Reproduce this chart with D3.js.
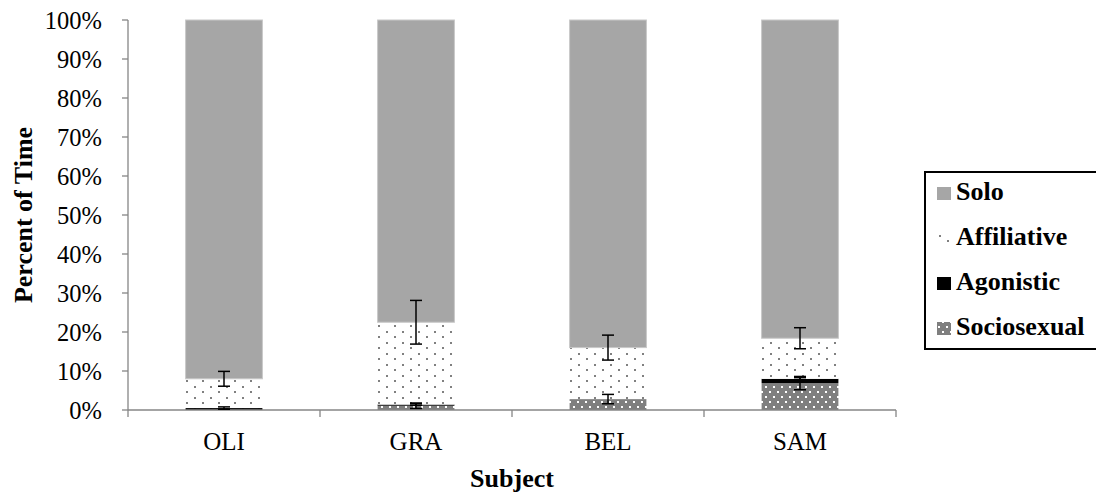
<!DOCTYPE html>
<html>
<head>
<meta charset="utf-8">
<script src="https://cdn.jsdelivr.net/npm/d3@7"></script>
<style>
  body { margin: 0; background: #fff; }
  svg { display: block; }
</style>
</head>
<body>
<svg id="chart" width="1096" height="494" font-family="Liberation Serif"></svg>
<script>
// ---- data (percent of time) ----
const subjects = ["OLI", "GRA", "BEL", "SAM"];
const seriesNames = ["Sociosexual", "Agonistic", "Affiliative", "Solo"];
const sociosexual = [0, 1.1, 2.8, 6.9];
const agonistic = [0.5, 0.3, 0, 1.1];
const affiliative = [7.5, 21.1, 13.2, 10.4];
const solo = subjects.map((d, i) => 100 - sociosexual[i] - agonistic[i] - affiliative[i]);
const sociosexualErr = [0, 0.7, 1.2, 1.7];
const agonisticErr = [0.3, 0.2, 0, 0.3];
const affiliativeErr = [1.9, 5.6, 3.2, 2.7];
const yTicks = [0, 10, 20, 30, 40, 50, 60, 70, 80, 90, 100];
const legendOrder = ["Solo", "Affiliative", "Agonistic", "Sociosexual"];

const values = { Sociosexual: sociosexual, Agonistic: agonistic, Affiliative: affiliative, Solo: solo };
const errors = { Sociosexual: sociosexualErr, Agonistic: agonisticErr, Affiliative: affiliativeErr, Solo: null };

const FONT = "Liberation Serif";
const svg = d3.select("#chart");
const pLeft = 128, pRight = 896, pTop = 20, pBottom = 410;

const x = d3.scaleBand().domain(subjects).range([pLeft, pRight]).paddingInner(0.6).paddingOuter(0.3);
const xb = d3.scaleBand().domain(subjects).range([pLeft, pRight]);
const y = d3.scaleLinear().domain([0, 100]).range([pBottom, pTop]);

// patterns
const defs = svg.append("defs");
const pA = defs.append("pattern").attr("id", "pAffil").attr("patternUnits", "userSpaceOnUse")
  .attr("width", 16).attr("height", 11);
pA.append("rect").attr("width", 16).attr("height", 11).attr("fill", "#fff");
pA.append("rect").attr("x", 2).attr("y", 1).attr("width", 2).attr("height", 2).attr("fill", "#808080");
pA.append("rect").attr("x", 10).attr("y", 6).attr("width", 2).attr("height", 2).attr("fill", "#808080");

const pS = defs.append("pattern").attr("id", "pSocio").attr("patternUnits", "userSpaceOnUse")
  .attr("width", 8).attr("height", 10);
pS.append("rect").attr("width", 8).attr("height", 10).attr("fill", "#7f7f7f");
pS.append("rect").attr("x", 1).attr("y", 1).attr("width", 2).attr("height", 2).attr("fill", "#fff");
pS.append("rect").attr("x", 5).attr("y", 6).attr("width", 2).attr("height", 2).attr("fill", "#fff");

const fills = { Sociosexual: "url(#pSocio)", Agonistic: "#000", Affiliative: "url(#pAffil)", Solo: "#a6a6a6" };

// stack
const table = subjects.map((s, i) => {
  const o = { subject: s };
  seriesNames.forEach(n => o[n] = values[n][i]);
  return o;
});
const stack = d3.stack().keys(seriesNames)(table);

// bars
stack.forEach(layer => {
  svg.append("g").selectAll("rect").data(layer).join("rect")
    .attr("x", d => x(d.data.subject))
    .attr("width", x.bandwidth())
    .attr("y", d => y(d[1]))
    .attr("height", d => y(d[0]) - y(d[1]))
    .attr("fill", fills[layer.key])
    .attr("stroke", layer.key === "Solo" ? "#c8c8c8" : "none")
    .attr("stroke-width", 1);
});

// axes
const axisColor = "#868686";
svg.append("line").attr("x1", pLeft).attr("x2", pLeft).attr("y1", pTop).attr("y2", pBottom)
  .attr("stroke", axisColor).attr("stroke-width", 1.3);
svg.append("g").selectAll("line").data(yTicks).join("line")
  .attr("x1", pLeft - 6).attr("x2", pLeft).attr("y1", d => y(d)).attr("y2", d => y(d))
  .attr("stroke", axisColor).attr("stroke-width", 1.3);
svg.append("g").selectAll("text").data(yTicks).join("text")
  .attr("x", 102).attr("y", d => y(d)).attr("dy", "0.36em")
  .attr("font-family", FONT).attr("fill", "#000")
  .attr("text-anchor", "end").attr("font-size", 24.5)
  .text(d => d + "%");

svg.append("line").attr("x1", pLeft).attr("x2", pRight).attr("y1", pBottom).attr("y2", pBottom)
  .attr("stroke", axisColor).attr("stroke-width", 1.3);
const bounds = subjects.map(s => xb(s)).concat([pRight]);
svg.append("g").selectAll("line").data(bounds).join("line")
  .attr("x1", d => d).attr("x2", d => d).attr("y1", pBottom).attr("y2", pBottom + 7)
  .attr("stroke", axisColor).attr("stroke-width", 1.3);
svg.append("g").selectAll("text").data(subjects).join("text")
  .attr("x", d => xb(d) + xb.bandwidth() / 2).attr("y", 450)
  .attr("font-family", FONT).attr("fill", "#000")
  .attr("text-anchor", "middle").attr("font-size", 25)
  .text(d => d);

// error bars at top of each segment
stack.forEach(layer => {
  const err = errors[layer.key];
  if (!err) return;
  const g = svg.append("g").attr("stroke", "#000").attr("stroke-width", 1.5);
  layer.forEach((d, i) => {
    if (!err[i]) return;
    const cx = x(d.data.subject) + x.bandwidth() / 2;
    const y1 = y(d[1] + err[i]), y2 = y(Math.max(0, d[1] - err[i]));
    g.append("line").attr("x1", cx).attr("x2", cx).attr("y1", y1).attr("y2", y2);
    g.append("line").attr("x1", cx - 6).attr("x2", cx + 6).attr("y1", y1).attr("y2", y1);
    g.append("line").attr("x1", cx - 6).attr("x2", cx + 6).attr("y1", y2).attr("y2", y2);
  });
});

// axis titles
svg.append("text").attr("transform", "translate(32,215) rotate(-90)")
  .attr("font-family", FONT).attr("font-weight", "bold").attr("fill", "#000")
  .attr("text-anchor", "middle").attr("font-size", 26)
  .text("Percent of Time");
svg.append("text").attr("x", 512).attr("y", 487)
  .attr("font-family", FONT).attr("font-weight", "bold").attr("fill", "#000")
  .attr("text-anchor", "middle").attr("font-size", 26)
  .text("Subject");

// legend
svg.append("rect").attr("x", 925).attr("y", 172).attr("width", 200).attr("height", 177)
  .attr("fill", "#fff").attr("stroke", "#000").attr("stroke-width", 2);
const lg = svg.append("g").selectAll("g").data(legendOrder).join("g")
  .attr("transform", (d, i) => `translate(937,${200 + i * 45})`);
lg.append("rect").attr("x", 0).attr("y", -13).attr("width", 14).attr("height", 13)
  .attr("fill", d => fills[d]);
lg.append("text").attr("x", 19).attr("y", 0)
  .attr("font-family", FONT).attr("font-weight", "bold").attr("fill", "#000")
  .attr("font-size", 26)
  .text(d => d);
</script>
</body>
</html>
